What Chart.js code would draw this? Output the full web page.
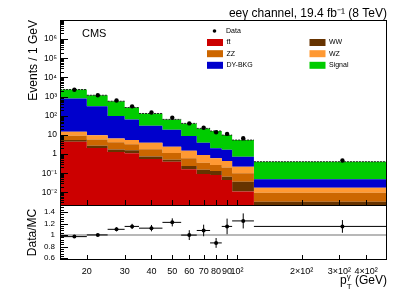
<!DOCTYPE html>
<html><head><meta charset="utf-8">
<script src="https://cdn.jsdelivr.net/npm/chart.js@4.4.1/dist/chart.umd.min.js"></script>
<style>html,body{margin:0;padding:0;background:#fff;}#wrap{width:407px;height:294px;}</style>
</head><body><div id="wrap"><canvas id="c" width="407" height="294"></canvas></div>
<script>
// ---- data ----
const binEdges   = [15, 20, 25, 30, 35, 45, 55, 65, 75, 85, 95, 120, 500];
const binCenters = [17.5, 22.5, 27.5, 32.5, 40, 50, 60, 70, 80, 90, 107, 310];
const ttbar  = [4.4, 2.1, 1.3, 1.1, 0.55, 0.4, 0.16, 0.09, 0.08, 0.045, 0.011, 0.001];
const ww     = [1.0, 0.6, 0.45, 0.5, 0.2, 0.1, 0.08, 0.06, 0.05, 0.021, 0.025, 0.0023];
const zz     = [3.6, 3.1, 2.35, 1.7, 1.05, 0.65, 0.36, 0.2, 0.14, 0.134, 0.064, 0.0063];
const wz     = [5.5, 3.7, 2.5, 2.1, 2.1, 1.25, 0.9, 0.54, 0.33, 0.23, 0.12, 0.0079];
const dyBkg  = [785, 306, 92, 59, 26, 16, 7.2, 3.0, 1.4, 1.27, 0.5, 0.0305];
const signal = [1540, 864, 476, 206, 102, 46.5, 31.3, 18.1, 14, 8.1, 4.68, 0.352];
const dataCounts = [2280, 1183, 632, 310, 148, 79, 40, 23.8, 13.8, 11.3, 6.7, 0.46];
const ratio    = [0.974, 1.003, 1.10, 1.15, 1.12, 1.22, 1.00, 1.08, 0.865, 1.15, 1.245, 1.15];
const ratioErr = [0.015, 0.015, 0.035, 0.045, 0.055, 0.07, 0.085, 0.10, 0.085, 0.135, 0.13, 0.11];

const xTickVals   = [20, 30, 40, 50, 60, 70, 80, 90, 100, 200, 300, 400];
const xTickLabels = ['20', '30', '40', '50', '60', '70', '80', '90', '10\u00B2', '2\u00D710\u00B2', '3\u00D710\u00B2', '4\u00D710\u00B2'];
const yTickVals   = [0.01, 0.1, 1, 10, 100, 1e3, 1e4, 1e5, 1e6];
const yTickLabels = ['10\u207B\u00B2', '10\u207B\u00B9', '1', '10', '10\u00B2', '10\u00B3', '10\u2074', '10\u2075', '10\u2076'];
const rTickVals   = [0.6, 0.8, 1.0, 1.2, 1.4];
const rTickLabels = ['0.6', '0.8', '1', '1.2', '1.4'];

const Y_MIN = 0.0022, Y_MAX = 1e7, R_MIN = 0.57, R_MAX = 1.52;
const FONT = '"Liberation Sans", Arial, Helvetica, sans-serif';

const components = [
  {label: 'tt\u0304', values: ttbar,  color: '#cc0000'},
  {label: 'WW',      values: ww,     color: '#663300'},
  {label: 'ZZ',      values: zz,     color: '#cc6600'},
  {label: 'WZ',      values: wz,     color: '#ff9933'},
  {label: 'DY-BKG',  values: dyBkg,  color: '#0000cc'},
  {label: 'Signal',  values: signal, color: '#00cc00'}
];

// cumulative stack
const cum = [];
components.forEach((c, i) => {
  cum.push(c.values.map((v, b) => v + (i ? cum[i - 1][b] : 0)));
});
function stepPoints(vals) {
  const pts = vals.map((v, b) => ({x: binEdges[b], y: Math.max(v, Y_MIN)}));
  pts.push({x: binEdges[binEdges.length - 1], y: Math.max(vals[vals.length - 1], Y_MIN)});
  return pts;
}
const datasets = components.map((c, i) => ({
  type: 'line', label: c.label, data: stepPoints(cum[i]), yAxisID: 'y',
  stepped: true, borderWidth: 0, borderColor: c.color, backgroundColor: c.color,
  pointRadius: 0, fill: i === 0 ? 'start' : '-1', order: 10
}));
// outline of MC total
const total = cum[cum.length - 1];
const outline = [];
total.forEach((v, b) => { outline.push({x: binEdges[b], y: v}, {x: binEdges[b + 1], y: v}, {x: binEdges[b + 1], y: null}); });
datasets.push({type: 'line', label: 'mcTotal', data: outline, yAxisID: 'y', borderColor: '#222', borderWidth: 1,
  borderDash: [2, 1], pointRadius: 0, fill: false, spanGaps: false, order: 5});
// data points
datasets.push({type: 'line', label: 'Data', data: binCenters.map((x, b) => ({x, y: dataCounts[b]})), yAxisID: 'y',
  showLine: false, pointRadius: 2.2, pointBackgroundColor: '#000', pointBorderColor: '#000', pointBorderWidth: 0, order: 0});
// ratio panel
datasets.push({type: 'line', label: 'unity', data: [{x: binEdges[0], y: 1}, {x: binEdges[binEdges.length - 1], y: 1}],
  yAxisID: 'yr', borderColor: '#a0a0a0', borderWidth: 1.5, pointRadius: 0, fill: false, order: 6});
const hBars = [], vBars = [];
ratio.forEach((r, b) => {
  hBars.push({x: binEdges[b], y: r}, {x: binEdges[b + 1], y: r}, {x: binEdges[b + 1], y: null});
  vBars.push({x: binCenters[b], y: r - ratioErr[b]}, {x: binCenters[b], y: r + ratioErr[b]}, {x: binCenters[b], y: null});
});
datasets.push({type: 'line', label: 'rH', data: hBars, yAxisID: 'yr', borderColor: '#000', borderWidth: 1, pointRadius: 0, fill: false, spanGaps: false, order: 2});
datasets.push({type: 'line', label: 'rV', data: vBars, yAxisID: 'yr', borderColor: '#000', borderWidth: 1, pointRadius: 0, fill: false, spanGaps: false, order: 2});
datasets.push({type: 'line', label: 'ratio', data: binCenters.map((x, b) => ({x, y: ratio[b]})), yAxisID: 'yr',
  showLine: false, pointRadius: 2, pointBackgroundColor: '#000', pointBorderWidth: 0, order: 0});

const rootDecor = {
  id: 'rootDecor',
  afterDraw(chart) {
    const ctx = chart.ctx;
    const xs = chart.scales.x, ys = chart.scales.y, yr = chart.scales.yr;
    const L = chart.chartArea.left, R = chart.chartArea.right;
    ctx.save();
    ctx.strokeStyle = '#000'; ctx.lineWidth = 1;
    const seg = (x1, y1, x2, y2) => { ctx.beginPath(); ctx.moveTo(x1, y1); ctx.lineTo(x2, y2); ctx.stroke(); };
    ctx.strokeRect(L + 0.5, ys.top + 0.5, R - L - 1, ys.bottom - ys.top);
    ctx.strokeRect(L + 0.5, yr.top + 0.5, R - L - 1, yr.bottom - yr.top - 1);
    for (let e = -3; e <= 7; e++) for (let m = 1; m <= 9; m++) {
      const v = m * Math.pow(10, e);
      if (v < ys.min || v > ys.max) continue;
      const py = Math.round(ys.getPixelForValue(v)) + 0.5;
      seg(L, py, L + (m === 1 ? 8 : 4), py);
    }
    for (let k = Math.ceil(R_MIN / 0.04); k * 0.04 <= R_MAX; k++) {
      const py = Math.round(yr.getPixelForValue(k * 0.04)) + 0.5;
      seg(L, py, L + (k % 5 === 0 ? 8 : 4), py);
    }
    xTickVals.forEach(v => {
      const px = Math.round(xs.getPixelForValue(v)) + 0.5;
      seg(px, ys.bottom, px, ys.bottom - 5);
      seg(px, yr.bottom - 1, px, yr.bottom - 5);
    });
    // texts
    ctx.fillStyle = '#000';
    ctx.textBaseline = 'alphabetic';
    ctx.font = '12px ' + FONT; ctx.textAlign = 'right';
    ctx.fillText('ee\u03B3 channel, 19.4 fb\u207B\u00B9 (8 TeV)', R, 17);
    ctx.font = '11px ' + FONT; ctx.textAlign = 'left';
    ctx.fillText('CMS', 82, 37);
    // legend
    ctx.font = '7px ' + FONT; ctx.textBaseline = 'middle';
    ctx.beginPath(); ctx.arc(214.5, 31, 1.8, 0, Math.PI * 2); ctx.fill();
    ctx.fillText('Data', 226, 31);
    const slot = {0: [207, 42.5], 1: [309.5, 42.5], 2: [207, 53.7], 3: [309.5, 53.7], 4: [207, 65.3], 5: [309.5, 65.3]};
    components.forEach((c, i) => {
      const [bx, by] = slot[i];
      ctx.fillStyle = chart.data.datasets[i].backgroundColor;
      ctx.fillRect(bx, by - 3.5, 16, 7);
      ctx.fillStyle = '#000';
      ctx.fillText(chart.data.datasets[i].label, bx + 19.5, by);
    });
    // x title p_T^gamma (GeV)
    ctx.textBaseline = 'alphabetic'; ctx.textAlign = 'left';
    ctx.font = '12px ' + FONT; const wP = ctx.measureText('p').width; const wG = ctx.measureText(' (GeV)').width;
    ctx.font = '8px ' + FONT; const wS = Math.max(ctx.measureText('T').width, ctx.measureText('\u03B3').width);
    let x0 = R - wG - wS - wP;
    ctx.font = '12px ' + FONT; ctx.fillText('p', x0, 284);
    ctx.font = '8px ' + FONT; ctx.fillText('T', x0 + wP, 289); ctx.fillText('\u03B3', x0 + wP, 279);
    ctx.font = '12px ' + FONT; ctx.fillText(' (GeV)', x0 + wP + wS, 284);
    ctx.restore();
  }
};

new Chart(document.getElementById('c'), {
  type: 'line',
  data: {datasets},
  options: {
    responsive: false, animation: false, devicePixelRatio: 1,
    layout: {padding: {left: 0, right: 20, top: 20, bottom: 0}},
    plugins: {legend: {display: false}, tooltip: {enabled: false}},
    elements: {line: {tension: 0}},
    scales: {
      x: {
        type: 'logarithmic', min: binEdges[0], max: binEdges[binEdges.length - 1],
        afterBuildTicks: s => { s.ticks = xTickVals.map(v => ({value: v})); },
        afterFit: s => { s.height = 34; },
        grid: {display: false, drawTicks: false}, border: {display: false},
        ticks: {autoSkip: false, maxRotation: 0, minRotation: 0, padding: 6, color: '#000',
          font: {family: FONT, size: 9}, callback: v => xTickLabels[xTickVals.indexOf(v)]}
      },
      yr: {
        type: 'linear', position: 'left', stack: 'v', stackWeight: 55, min: R_MIN, max: R_MAX,
        afterBuildTicks: s => { s.ticks = rTickVals.map(v => ({value: v})); },
        afterFit: s => { s.width = 60; },
        grid: {display: false, drawTicks: false}, border: {display: false},
        ticks: {autoSkip: false, padding: 5, color: '#000', font: {family: FONT, size: 8}, callback: v => rTickLabels[rTickVals.indexOf(v)]},
        title: {display: true, text: 'Data/MC', align: 'center', color: '#000', font: {family: FONT, size: 12}, padding: {top: 25, bottom: 0}}
      },
      y: {
        type: 'logarithmic', position: 'left', stack: 'v', stackWeight: 185, min: Y_MIN, max: Y_MAX,
        afterBuildTicks: s => { s.ticks = yTickVals.map(v => ({value: v})); },
        afterFit: s => { s.width = 60; },
        grid: {display: false, drawTicks: false}, border: {display: false},
        ticks: {autoSkip: false, padding: 3, color: '#000', font: {family: FONT, size: 8.5}, callback: v => yTickLabels[yTickVals.indexOf(v)]},
        title: {display: true, text: 'Events / 1 GeV', align: 'end', color: '#000', font: {family: FONT, size: 12}, padding: {top: 26, bottom: 0}}
      }
    }
  },
  plugins: [rootDecor]
});
</script></body></html>
